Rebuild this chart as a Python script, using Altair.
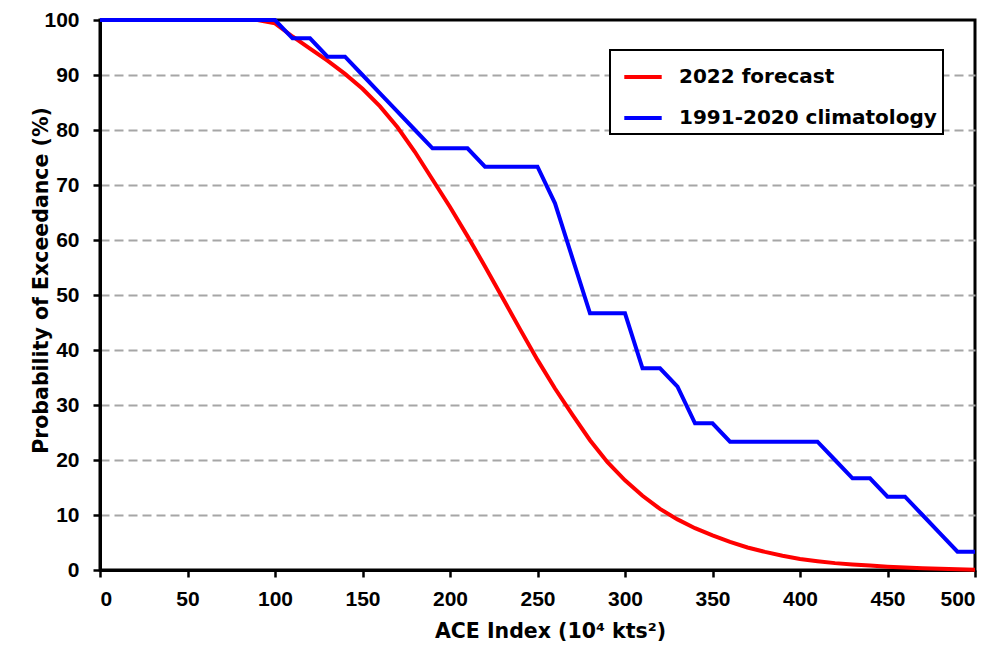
import altair as alt
import pandas as pd

ace = list(range(0, 501, 10))

forecast = [100, 100, 100, 100, 100, 100, 100, 100, 100, 100,
            99.4, 97.0, 94.8, 92.6, 90.2, 87.5, 84.3, 80.5, 76.0, 71.0,
            66.0, 60.7, 55.2, 49.5, 43.8, 38.2, 33.0, 28.2, 23.6, 19.6,
            16.3, 13.5, 11.1, 9.2, 7.6, 6.3, 5.1, 4.1, 3.3, 2.6,
            2.0, 1.6, 1.25, 1.0, 0.8, 0.6, 0.45, 0.33, 0.22, 0.12,
            0.05]

climatology = [100, 100, 100, 100, 100, 100, 100, 100, 100, 100,
               100, 96.67, 96.67, 93.33, 93.33, 90.0, 86.67, 83.33, 80.0, 76.67,
               76.67, 76.67, 73.33, 73.33, 73.33, 73.33, 66.67, 56.67, 46.67, 46.67,
               46.67, 36.67, 36.67, 33.33, 26.67, 26.67, 23.33, 23.33, 23.33, 23.33,
               23.33, 23.33, 20.0, 16.67, 16.67, 13.33, 13.33, 10.0, 6.67, 3.33,
               3.33]

series_names = ["2022 forecast", "1991-2020 climatology"]
series_colors = ["#ff0000", "#0000ff"]

rows = []
for i, x in enumerate(ace):
    rows.append({"ace": x, "prob": forecast[i], "series": series_names[0], "order": 0})
for i, x in enumerate(ace):
    rows.append({"ace": x, "prob": climatology[i], "series": series_names[1], "order": 1})
df = pd.DataFrame(rows)

TICK_FONT = "Liberation Sans"
TEXT_FONT = "DejaVu Sans"

chart = alt.Chart(df).mark_line(strokeWidth=4, clip=False).encode(
    x=alt.X("ace:Q",
            scale=alt.Scale(domain=[0, 500], nice=False),
            axis=alt.Axis(values=list(range(0, 501, 50)), grid=False,
                          title="ACE Index (10⁴ kts²)", titleX=450, titleY=51,
                          labelPadding=11)),
    y=alt.Y("prob:Q",
            scale=alt.Scale(domain=[0, 100], nice=False),
            axis=alt.Axis(values=list(range(0, 101, 10)), grid=True,
                          gridOpacity={"condition": {"test": "datum.value == 0 || datum.value == 100",
                                                     "value": 0}, "value": 1},
                          title="Probability of Exceedance (%)", titleX=-49, titleY=260,
                          labelPadding=14)),
    color=alt.Color("series:N",
                    scale=alt.Scale(domain=series_names, range=series_colors),
                    legend=alt.Legend(title=None, orient="none", legendX=510, legendY=30,
                                      symbolType="stroke", symbolStrokeWidth=4,
                                      symbolSize=1400, labelFontSize=20,
                                      labelFontWeight="bold", labelFont=TEXT_FONT,
                                      labelColor="black", labelOffset=15, labelLimit=600,
                                      rowPadding=10, padding=6, symbolOffset=6,
                                      strokeColor="black", fillColor="white")),
    order=alt.Order("order:Q"),
    detail="series:N",
).properties(
    width=875, height=550,
    padding={"left": 92, "top": 12, "right": 10, "bottom": 82},
    autosize=alt.AutoSizeParams(type="none"),
).configure_view(
    stroke="black", strokeWidth=3
).configure_axis(
    domainColor="black", domainWidth=3,
    tickColor="black", tickWidth=2.5, tickSize=7,
    labelFont=TICK_FONT, labelFontSize=21, labelFontWeight="bold", labelColor="black",
    titleFont=TEXT_FONT, titleFontSize=20.5, titleFontWeight="bold", titleColor="black",
    gridColor="#a6a6a6", gridWidth=2, gridDash=[9, 5],
).configure_legend(
    strokeWidth=2
)

chart.save("out.html", embed_options={"renderer": "svg", "actions": False})
